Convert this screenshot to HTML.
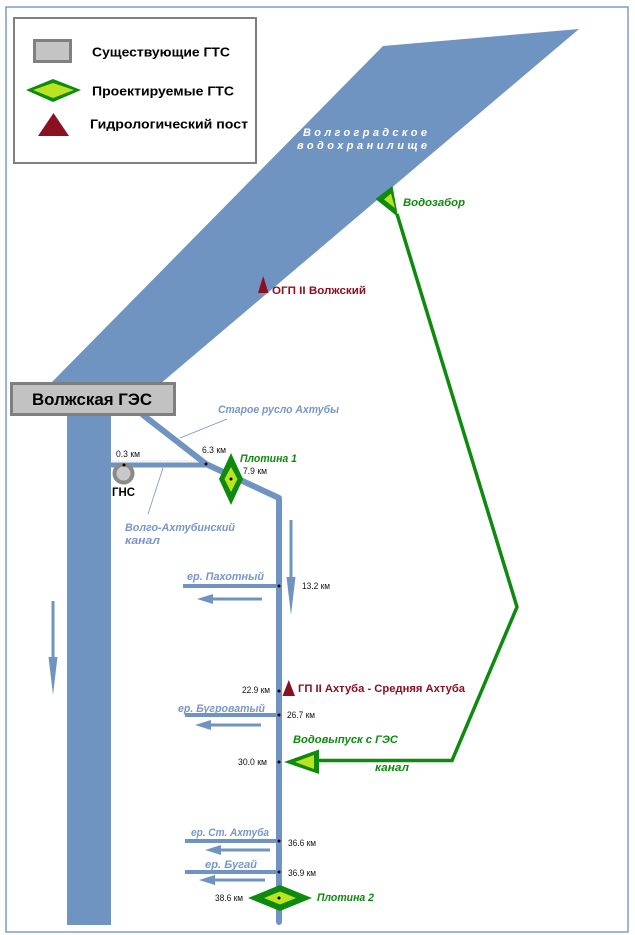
<!DOCTYPE html>
<html><head><meta charset="utf-8"><style>
html,body{margin:0;padding:0;background:#fff;}
svg{display:block;}
text{font-family:"Liberation Sans","DejaVu Sans",sans-serif;}
.b{font-weight:bold;}
.bi{font-weight:bold;font-style:italic;}
.km{font-size:9px;fill:#111;}
.lb{fill:#7896cb;font-size:11px;font-weight:bold;font-style:italic;}
.gr{fill:#0e8a0e;font-size:11px;font-weight:bold;font-style:italic;}
.rd{fill:#8b1020;font-size:11px;font-weight:bold;}
</style></head><body>
<svg width="635" height="935" viewBox="0 0 635 935" xmlns="http://www.w3.org/2000/svg">
<rect x="6" y="7" width="622" height="925" fill="#fff" stroke="#7a9cd0" stroke-width="1.5"/>

<!-- legend -->
<rect x="14" y="18" width="242" height="145" fill="#fff" stroke="#808080" stroke-width="2"/>
<rect x="34.5" y="40.5" width="36" height="21" fill="#c4c4c4" stroke="#808080" stroke-width="3"/>
<polygon points="26,90 53,79 81,90 53,102" fill="#0e8a0e"/>
<polygon points="33,90 53,83 74,90 53,98" fill="#b9e41f"/>
<polygon points="38,136 69,136 53.5,113" fill="#8b1020"/>
<text x="92" y="56.5" class="b" font-size="13" textLength="138" lengthAdjust="spacingAndGlyphs">Существующие ГТС</text>
<text x="92" y="95.5" class="b" font-size="13" textLength="142" lengthAdjust="spacingAndGlyphs">Проектируемые ГТС</text>
<text x="90" y="128.5" class="b" font-size="13" textLength="158" lengthAdjust="spacingAndGlyphs">Гидрологический пост</text>

<!-- reservoir -->
<polygon points="383,46 579,29 160,384 50,384" fill="#7094c1"/>
<text x="303" y="136" fill="#fff" class="bi" font-size="11" textLength="124" lengthAdjust="spacing">Волгоградское</text>
<text x="297" y="149" fill="#fff" class="bi" font-size="11" textLength="130" lengthAdjust="spacing">водохранилище</text>

<!-- Volga -->
<rect x="67" y="410" width="44" height="515" fill="#7094c1"/>
<!-- arrow left -->
<line x1="53" y1="601" x2="53" y2="660" stroke="#7094c1" stroke-width="3"/>
<polygon points="48.5,657 57.5,657 53,695" fill="#7094c1"/>

<!-- Akhtuba -->
<polyline points="143,415 206,464 279,498 279,922" fill="none" stroke="#7094c1" stroke-width="6" stroke-linejoin="round" stroke-linecap="round"/>
<!-- canal -->
<line x1="111" y1="465" x2="206" y2="465" stroke="#7094c1" stroke-width="5"/>
<line x1="112" y1="461" x2="200" y2="461" stroke="#aab8cc" stroke-width="0.6" stroke-dasharray="2,1"/>
<!-- right arrow -->
<line x1="291" y1="520" x2="291" y2="580" stroke="#7094c1" stroke-width="3"/>
<polygon points="286.5,577 295.5,577 291,615" fill="#7094c1"/>

<!-- leader lines -->
<line x1="227" y1="419" x2="180" y2="438" stroke="#7094c1" stroke-width="0.8"/>
<line x1="163" y1="468" x2="148" y2="514" stroke="#7094c1" stroke-width="0.8"/>

<!-- GES box -->
<rect x="11.5" y="383.5" width="163" height="31" fill="#c2c2c2" stroke="#7f7f7f" stroke-width="3"/>
<text x="32" y="405" class="b" font-size="17" textLength="120" lengthAdjust="spacingAndGlyphs">Волжская ГЭС</text>

<!-- GNS -->
<circle cx="123.5" cy="473.5" r="9" fill="#c8c8c8" stroke="#8a8a8a" stroke-width="4"/>
<circle cx="124" cy="465" r="1.5" fill="#000"/>
<text x="112" y="496" class="b" font-size="12" textLength="23" lengthAdjust="spacingAndGlyphs">ГНС</text>

<!-- tributaries -->
<g stroke="#7094c1">
<line x1="183" y1="586" x2="279" y2="586" stroke-width="4"/>
<line x1="210" y1="599" x2="262" y2="599" stroke-width="3"/>
<line x1="185" y1="715" x2="279" y2="715" stroke-width="4"/>
<line x1="208" y1="725" x2="261" y2="725" stroke-width="3"/>
<line x1="185" y1="841" x2="279" y2="841" stroke-width="4"/>
<line x1="218" y1="850" x2="270" y2="850" stroke-width="3"/>
<line x1="185" y1="872" x2="279" y2="872" stroke-width="4"/>
<line x1="212" y1="880" x2="265" y2="880" stroke-width="3"/>
</g>
<g fill="#7094c1">
<polygon points="197,599 213,594 213,604"/>
<polygon points="195,725 211,720 211,730"/>
<polygon points="205,850 221,845 221,855"/>
<polygon points="199,880 215,875 215,885"/>
</g>

<!-- green canal -->
<polyline points="397,214 517,607 452,760.5 318,760.5" fill="none" stroke="#0e8a0e" stroke-width="3.5" stroke-linejoin="miter"/>
<!-- Vodozabor -->
<polygon points="392.5,186 375.5,199 398,217" fill="#0e8a0e"/>
<polygon points="391,193.5 384,199.5 395,208" fill="#b9e41f"/>
<!-- Vodovypusk -->
<polygon points="284,762 319,749.5 319,774" fill="#0e8a0e"/>
<polygon points="295,762 314,755 314,769" fill="#b9e41f"/>

<!-- Plotina 1 -->
<polygon points="231,453 243,479 231,505 219,479" fill="#0e8a0e"/>
<polygon points="231,467 237.5,479 231,492 224.5,479" fill="#b9e41f"/>
<!-- Plotina 2 -->
<polygon points="248,898 280,885 312,898 280,911" fill="#0e8a0e"/>
<polygon points="264,898 280,891.5 296,898 280,904.5" fill="#b9e41f"/>

<!-- triangles -->
<polygon points="258,293 268.5,293 263.2,276" fill="#8b1020"/>
<polygon points="282.5,696 295,696 288.8,680" fill="#8b1020"/>

<!-- dots -->
<g fill="#000">
<circle cx="206" cy="464" r="1.5"/>
<circle cx="231" cy="479" r="1.5"/>
<circle cx="279" cy="586" r="1.5"/>
<circle cx="279" cy="691" r="1.5"/>
<circle cx="279" cy="715" r="1.5"/>
<circle cx="279" cy="762" r="1.5"/>
<circle cx="279" cy="841" r="1.5"/>
<circle cx="279" cy="872" r="1.5"/>
<circle cx="279" cy="898" r="1.5"/>
</g>

<!-- labels -->
<text x="403" y="206" class="gr" textLength="62" lengthAdjust="spacingAndGlyphs">Водозабор</text>
<text x="272" y="294" class="rd" textLength="94" lengthAdjust="spacingAndGlyphs">ОГП II Волжский</text>
<text x="218" y="413" class="lb" textLength="121" lengthAdjust="spacingAndGlyphs">Старое русло Ахтубы</text>
<text x="202" y="453" class="km" textLength="24" lengthAdjust="spacingAndGlyphs">6.3 км</text>
<text x="116" y="457" class="km" textLength="24" lengthAdjust="spacingAndGlyphs">0.3 км</text>
<text x="243" y="474" class="km" textLength="24" lengthAdjust="spacingAndGlyphs">7.9 км</text>
<text x="240" y="462" class="gr" textLength="57" lengthAdjust="spacingAndGlyphs">Плотина 1</text>
<text x="125" y="531" class="lb" textLength="110" lengthAdjust="spacingAndGlyphs">Волго-Ахтубинский</text>
<text x="125" y="544" class="lb" textLength="35" lengthAdjust="spacingAndGlyphs">канал</text>

<text x="187" y="580" class="lb" textLength="77" lengthAdjust="spacingAndGlyphs">ер. Пахотный</text>
<text x="302" y="589" class="km" textLength="28" lengthAdjust="spacingAndGlyphs">13.2 км</text>
<text x="242" y="693" class="km" textLength="28" lengthAdjust="spacingAndGlyphs">22.9 км</text>
<text x="298" y="692" class="rd" textLength="167" lengthAdjust="spacingAndGlyphs">ГП II Ахтуба - Средняя Ахтуба</text>
<text x="178" y="712" class="lb" textLength="87" lengthAdjust="spacingAndGlyphs">ер. Бугроватый</text>
<text x="287" y="718" class="km" textLength="28" lengthAdjust="spacingAndGlyphs">26.7 км</text>

<text x="293" y="743" class="gr" textLength="105" lengthAdjust="spacingAndGlyphs">Водовыпуск с ГЭС</text>
<text x="238" y="765" class="km" textLength="29" lengthAdjust="spacingAndGlyphs">30.0 км</text>
<text x="375" y="771" class="gr" textLength="34" lengthAdjust="spacingAndGlyphs">канал</text>

<text x="191" y="836" class="lb" textLength="78" lengthAdjust="spacingAndGlyphs">ер. Ст. Ахтуба</text>
<text x="288" y="846" class="km" textLength="28" lengthAdjust="spacingAndGlyphs">36.6 км</text>
<text x="205" y="868" class="lb" textLength="52" lengthAdjust="spacingAndGlyphs">ер. Бугай</text>
<text x="288" y="876" class="km" textLength="28" lengthAdjust="spacingAndGlyphs">36.9 км</text>
<text x="215" y="901" class="km" textLength="28" lengthAdjust="spacingAndGlyphs">38.6 км</text>
<text x="317" y="901" class="gr" textLength="57" lengthAdjust="spacingAndGlyphs">Плотина 2</text>
</svg>
</body></html>
